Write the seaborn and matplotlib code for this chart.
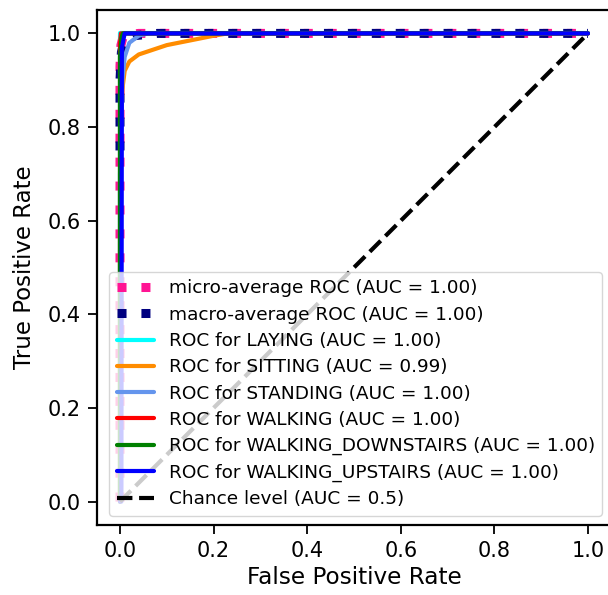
import matplotlib
matplotlib.use("Agg")
import matplotlib.pyplot as plt
import seaborn as sns
import pandas as pd

sns.set_style("ticks", rc={"axes.edgecolor": "black", "text.color": "black",
                           "xtick.color": "black", "ytick.color": "black",
                           "axes.labelcolor": "black"})
plt.rcParams['font.family'] = ['DejaVu Sans']

# ROC curve points
micro_fpr = [0.0, 0.0, 0.002, 0.006, 0.015, 0.04, 1.0]
micro_tpr = [0.0, 0.93, 0.975, 0.99, 0.997, 1.0, 1.0]
micro_auc = 1.00

macro_fpr = [0.0, 0.0, 0.003, 0.01, 0.03, 0.08, 1.0]
macro_tpr = [0.75, 0.90, 0.96, 0.985, 0.995, 1.0, 1.0]
macro_auc = 1.00

class_names = ["LAYING", "SITTING", "STANDING", "WALKING",
               "WALKING_DOWNSTAIRS", "WALKING_UPSTAIRS"]
class_auc = [1.00, 0.99, 1.00, 1.00, 1.00, 1.00]
class_colors = ["aqua", "darkorange", "cornflowerblue", "red", "green", "blue"]

laying_fpr = [0.0, 0.0, 1.0]
laying_tpr = [0.0, 1.0, 1.0]
sitting_fpr = [0.0, 0.0, 0.002, 0.005, 0.01, 0.02, 0.04, 0.07, 0.10, 0.15, 0.20, 0.23, 1.0]
sitting_tpr = [0.0, 0.55, 0.80, 0.88, 0.92, 0.94, 0.955, 0.965, 0.975, 0.985, 0.995, 1.0, 1.0]
standing_fpr = [0.0, 0.0, 0.005, 0.01, 0.02, 0.04, 0.06, 1.0]
standing_tpr = [0.0, 0.70, 0.90, 0.95, 0.98, 0.995, 1.0, 1.0]
walking_fpr = [0.0, 0.0, 0.002, 1.0]
walking_tpr = [0.0, 0.98, 1.0, 1.0]
down_fpr = [0.0, 0.0, 0.003, 0.006, 1.0]
down_tpr = [0.0, 0.95, 0.99, 1.0, 1.0]
up_fpr = [0.0, 0.003, 0.004, 0.01, 1.0]
up_tpr = [0.0, 0.0, 0.97, 1.0, 1.0]

chance_fpr = [0.0, 1.0]
chance_tpr = [0.0, 1.0]

class_fpr = [laying_fpr, sitting_fpr, standing_fpr, walking_fpr, down_fpr, up_fpr]
class_tpr = [laying_tpr, sitting_tpr, standing_tpr, walking_tpr, down_tpr, up_tpr]

W, H = 608, 595
fig = plt.figure(figsize=(W / 100, H / 100), dpi=100)
ax = fig.add_axes([96.6 / W, (H - 525) / H, 514.8 / W, 515 / H])

def draw(x, y, label, **kw):
    df = pd.DataFrame({"fpr": x, "tpr": y})
    sns.lineplot(data=df, x="fpr", y="tpr", sort=False, estimator=None,
                 ax=ax, label=label, **kw)

draw(micro_fpr, micro_tpr, f"micro-average ROC (AUC = {micro_auc:.2f})",
     color="deeppink", linestyle=":", linewidth=6.5)
draw(macro_fpr, macro_tpr, f"macro-average ROC (AUC = {macro_auc:.2f})",
     color="navy", linestyle=":", linewidth=6.5)
for n, a, c, x, y in zip(class_names, class_auc, class_colors, class_fpr, class_tpr):
    draw(x, y, f"ROC for {n} (AUC = {a:.2f})", color=c, linewidth=3)
draw(chance_fpr, chance_tpr, "Chance level (AUC = 0.5)", color="black",
     linestyle="--", linewidth=3)

ax.set_xlim(-0.05, 1.05)
ax.set_ylim(-0.05, 1.05)
ax.set_xticks([0.0, 0.2, 0.4, 0.6, 0.8, 1.0])
ax.set_yticks([0.0, 0.2, 0.4, 0.6, 0.8, 1.0])
ax.tick_params(labelsize=15, length=6.5, width=1.3, pad=5)
for s in ax.spines.values():
    s.set_visible(True)
    s.set_linewidth(1.6)
ax.set_xlabel("False Positive Rate", fontsize=16.7, labelpad=3.5)
ax.set_ylabel("True Positive Rate", fontsize=16.5, labelpad=8)
ax.legend(loc="lower right", fontsize=13.3, labelspacing=0.45,
          handlelength=2.0, borderaxespad=0.5)

fig.savefig("out.png", dpi=100)
